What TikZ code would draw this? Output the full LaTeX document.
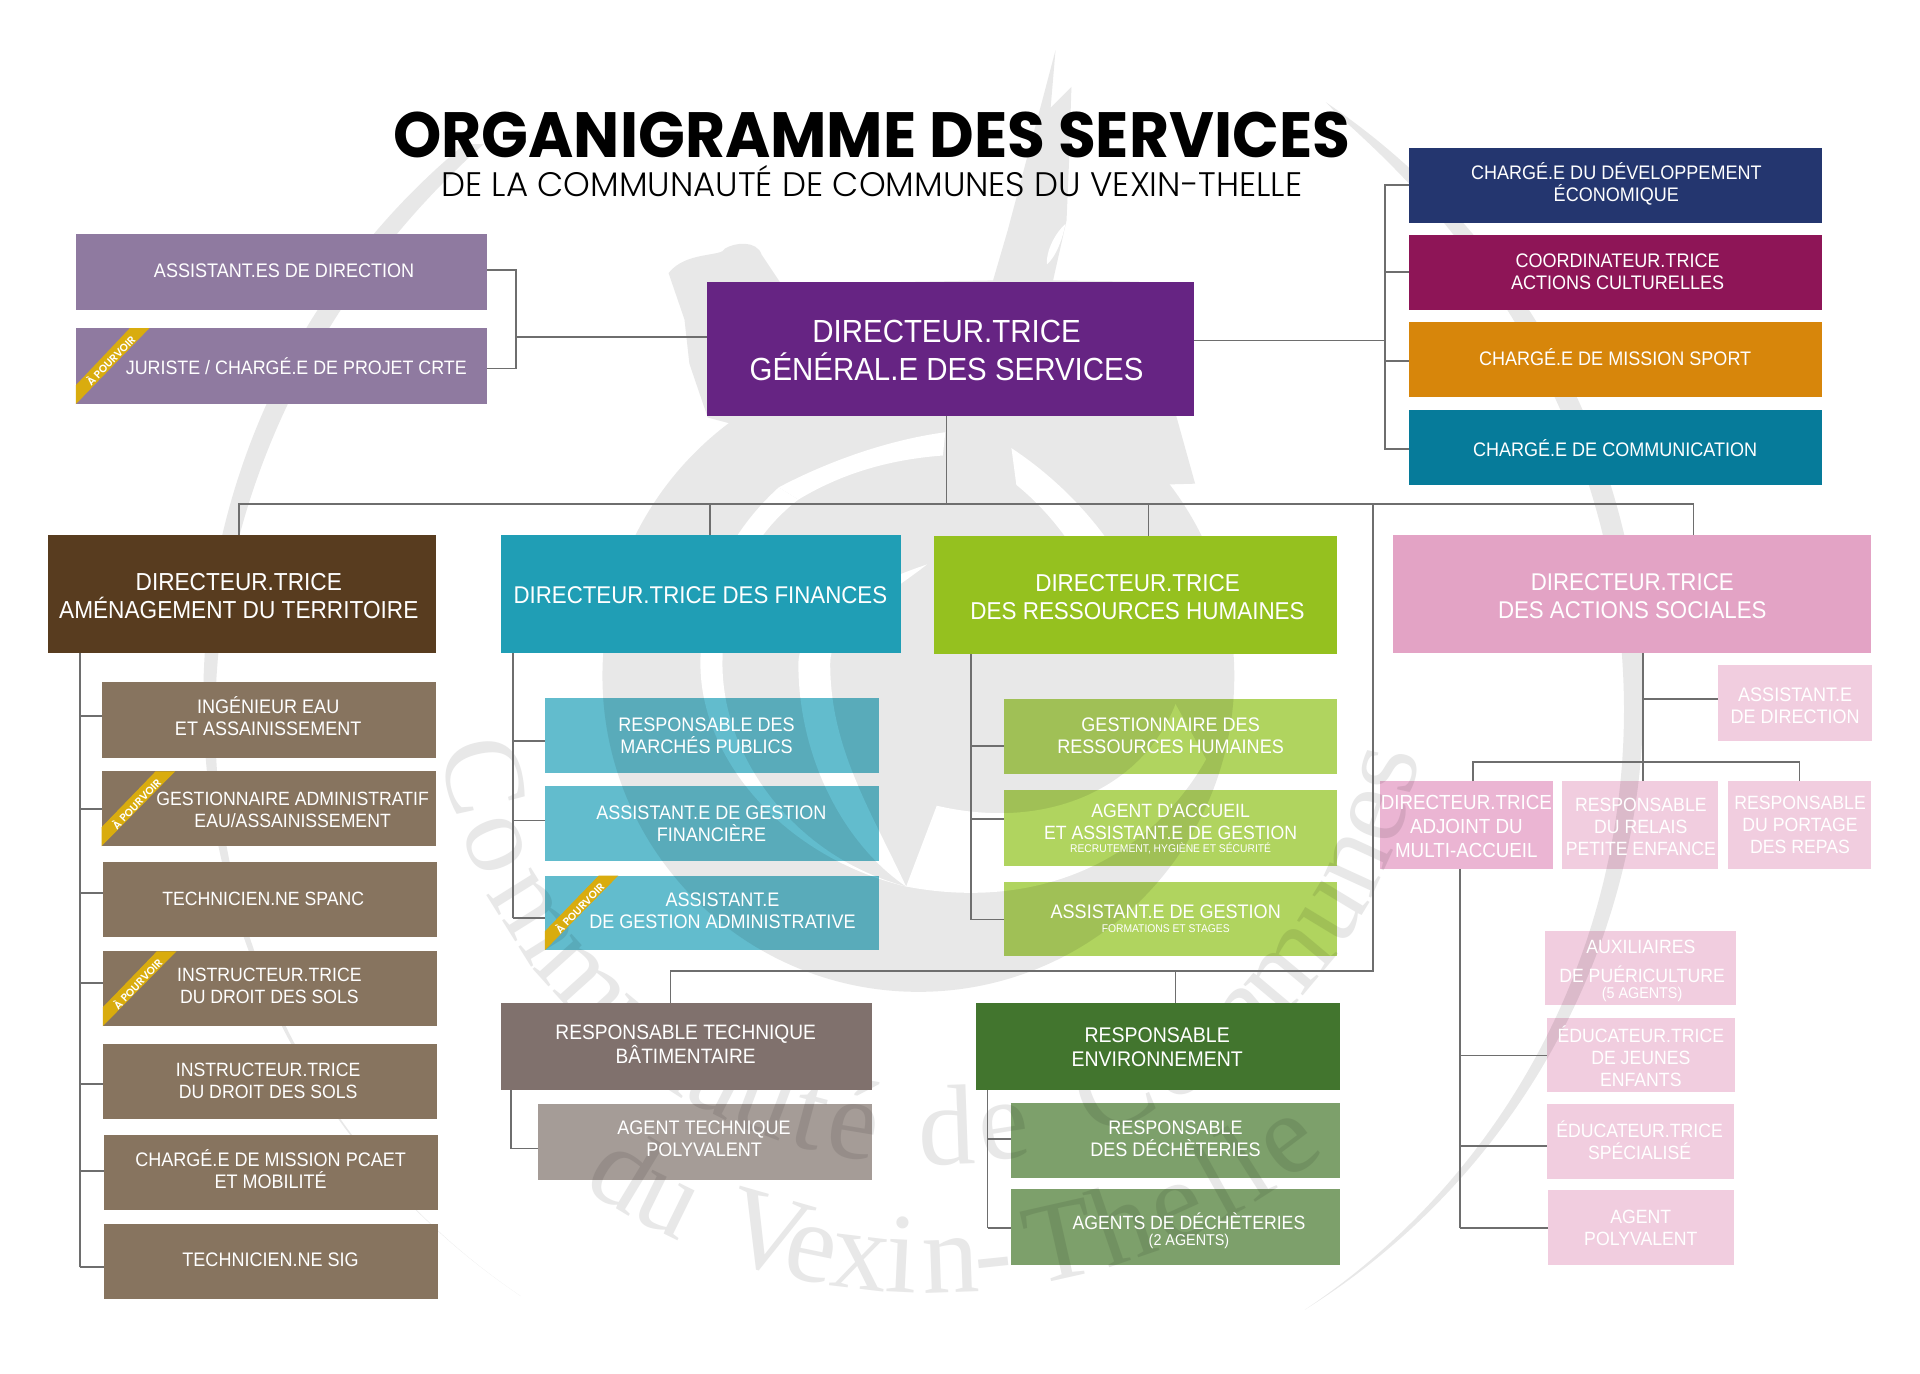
\documentclass[tikz,border=0pt]{standalone}
\usepackage{fontspec}
\usetikzlibrary{calc}
\newfontfamily\bodyf[FakeStretch=0.92]{Liberation Sans}
\newfontfamily\titlef[FakeStretch=0.96]{Poppins}
\newfontfamily\ribf{Poppins SemiBold}
\newfontfamily\subf{Poppins Light}
\newfontfamily\wmf{Liberation Serif}
\definecolor{wm}{HTML}{E8E8E8}
\definecolor{lin}{HTML}{6E6E6E}
\definecolor{gold}{HTML}{D9AC0E}
\definecolor{cmauve}{HTML}{8F7AA0}
\definecolor{cpurple}{HTML}{662483}
\definecolor{cnavy}{HTML}{24366F}
\definecolor{cwine}{HTML}{8E1557}
\definecolor{corange}{HTML}{D7860B}
\definecolor{cpetrol}{HTML}{067B9A}
\definecolor{cbrownd}{HTML}{583C1F}
\definecolor{cteald}{HTML}{209EB5}
\definecolor{cgreend}{HTML}{95C11F}
\definecolor{cpinkd}{HTML}{E3A3C5}
\definecolor{cbrown}{HTML}{87745F}
\definecolor{cteal}{HTML}{62BCCD}
\definecolor{cgreen}{HTML}{B0D45F}
\definecolor{cpinkm}{HTML}{EBB5D3}
\definecolor{cpinkl}{HTML}{F1CDDF}
\definecolor{ctaupe}{HTML}{80716D}
\definecolor{ctaupel}{HTML}{A59C97}
\definecolor{cforest}{HTML}{42752E}
\definecolor{cforestl}{HTML}{7DA06B}
\def\U{0.61224pt}
\tikzset{
  boxn/.style={rectangle,draw=none,inner sep=0pt,outer sep=0pt},
  boxm/.style={boxn,blend mode=multiply},
  txt/.style={text=white,align=center,inner sep=0pt,outer sep=0pt},
  conn/.style={draw=lin,line width=0.9pt,line join=miter},
  ribbontxt/.style={text=white,inner sep=0pt,font=\ribf\fontsize{5.3}{5.3}\selectfont,rotate=46},
  wmch/.style={inner sep=0pt,outer sep=0pt,text=wm,font=\wmf\fontsize{57}{57}\selectfont,anchor=base}
}
% name x0 y0 x1 y1 colour
\newcommand\bx[6]{\node[boxn,fill=#6,minimum width={(#4-#2)*\U},minimum height={(#5-#3)*\U}] (#1) at ({(#2+#4)/2},{(#3+#5)/2}) {};}
\newcommand\bxl[6]{\node[boxm,fill=#6,minimum width={(#4-#2)*\U},minimum height={(#5-#3)*\U}] (#1) at ({(#2+#4)/2},{(#3+#5)/2}) {};}
% name x y fontswitch size leading text
\newcommand\tx[7]{\node[txt,font=#4\fontsize{#5}{#6}\selectfont] (#1) at (#2,#3) {#7};}
\newcommand\ribbon[4]{\fill[gold] ({#2+44},#3) -- ({#2+60},#3) -- (#2,#4) -- (#2,{#4-15.5}) -- cycle;
  \node[ribbontxt] (#1) at ({#2+28},{#3+26}) {À POURVOIR};}
\newcommand\stub[3]{\coordinate (aux) at (#2,#3); \draw[conn] (aux) -- (aux -| #1.west);}
\newcommand\drop[3]{\coordinate (aux) at (#2,#3); \draw[conn] (aux) -- (aux |- #1.north);}
\newcommand\rise[3]{\coordinate (aux) at (#2,#3); \draw[conn] (aux) -- (aux |- #1.south);}
\begin{document}
\begin{tikzpicture}[x=0.61224pt,y=-0.61224pt]
\useasboundingbox (0,0) rectangle (1568,1121.3);
\fill[white] (0,0) rectangle (1568,1121.3);
% --- watermark
\begin{scope}
\clip (0,118) rectangle (1568,1121.3);
\fill[wm] plot[domain=124:245,samples=70,smooth] ({754+588*cos(\x)},{571+588*sin(\x)})
  -- plot[domain=245:124,samples=70,smooth] ({754+(588-16*sin(180*((\x-124)/121)^2))*cos(\x)},{571+(588-16*sin(180*((\x-124)/121)^2))*sin(\x)}) -- cycle;
\end{scope}
\fill[wm] plot[domain=-56:58,samples=70,smooth] ({754+588*cos(\x)},{571+588*sin(\x)})
  -- plot[domain=58:-56,samples=70,smooth] ({754+(588-17*sin(180*((\x+56)/114)^0.67))*cos(\x)},{571+(588-17*sin(180*((\x+56)/114)^0.67))*sin(\x)}) -- cycle;
% emblem disc and robe
\fill[wm] (750,552) circle[radius=258];
\fill[wm] (578,341) -- (563,297) -- (559,261) -- (546,223) .. controls (560,205) and (590,210) .. (592,203) .. controls (600,198) and (618,196) .. (622,208) -- (638,232) -- (811,229) -- (823,188) -- (852,79) -- (862,41) -- (858,88) -- (875,71) -- (873,133) -- (871,180) -- (860,229) -- (930,230) -- (976,395) -- (800,400) -- cycle;
\fill[white] (870,183) .. controls (868,195) and (862,210) .. (855,216) .. controls (854,205) and (862,190) .. (870,183) -- cycle;
% emblem white swirls
\fill[white] (636,398) .. controls (670,380) and (720,360) .. (772,353) -- (770,372) .. controls (730,375) and (690,385) .. (652,408) -- cycle;
\fill[white] (636,398) .. controls (590,440) and (572,490) .. (572,542) .. controls (572,620) and (640,700) .. (740,724) .. controls (650,700) and (590,620) .. (590,542) .. controls (590,490) and (610,440) .. (652,408) -- cycle;
\fill[white] (757,461) .. controls (700,480) and (652,510) .. (652,542) .. controls (652,620) and (690,690) .. (740,724) .. controls (710,660) and (678,610) .. (678,542) .. controls (678,510) and (720,490) .. (757,461) -- cycle;
\fill[white] (826,366) .. controls (870,395) and (905,435) .. (925,475) -- (900,500) .. controls (890,460) and (860,420) .. (830,396) -- cycle;
\fill[white] (740,724) .. controls (850,745) and (940,700) .. (985,620) -- (960,575) .. controls (935,640) and (860,680) .. (765,658) -- cycle;
\fill[wm] (832,558) .. controls (860,580) and (865,610) .. (850,635) .. controls (830,630) and (825,590) .. (832,558) -- cycle;
% watermark text on arcs: one letter at a time, polar angle / character
\foreach \a/\c [count=\i] in {166.4/C,157.8/o,148/m,138/m,129.5/u,123/n,117/a,110.8/u,105/t,99.5/é,88/d,81/e,66.5/C,58/o,50/m,40/m,31.2/u,24.6/n,18.4/e,12.6/s}{
  \node[wmch,rotate={90-\a}] (wa\i) at ({760+406*cos(\a)},{545+406*sin(\a)}) {\c};}
\foreach \a/\c [count=\i] in {121.3/d,116.2/u,106/V,101.6/e,96.8/x,92.8/i,88/n,84/-,77.3/T,71/h,65.5/e,61/l,57.5/l,53/e}{
  \node[wmch,rotate={90-\a}] (wb\i) at ({760+511*cos(\a)},{545+511*sin(\a)}) {\c};}
% --- boxes
\bx{asdir}{62}{191}{398}{253}{cmauve}
\bx{jur}{62}{268}{398}{330}{cmauve}
\bx{dgs}{577}{230}{975}{340}{cpurple}
\bx{cde}{1151}{121}{1488}{182}{cnavy}
\bx{coo}{1151}{192}{1488}{253}{cwine}
\bx{spo}{1151}{263}{1488}{324}{corange}
\bx{com}{1151}{335}{1488}{396}{cpetrol}
\bx{damt}{39}{437}{356}{533}{cbrownd}
\bx{dfin}{409}{437}{736}{533}{cteald}
\bx{drh}{763}{438}{1092}{534}{cgreend}
\bx{das}{1138}{437}{1528}{533}{cpinkd}
\bx{ing}{83}{557}{356}{619}{cbrown}
\bx{ges}{83}{630}{356}{691}{cbrown}
\bx{spa}{84}{704}{357}{765}{cbrown}
\bx{ins}{84}{777}{357}{838}{cbrown}
\bx{inz}{84}{853}{357}{914}{cbrown}
\bx{pca}{85}{927}{358}{988}{cbrown}
\bx{sig}{85}{1000}{358}{1061}{cbrown}
\bxl{mar}{445}{570}{718}{631}{cteal}
\bxl{fna}{445}{642}{718}{703}{cteal}
\bxl{adm}{445}{715}{718}{776}{cteal}
\bxl{grh}{820}{571}{1092}{632}{cgreen}
\bxl{acc}{820}{645}{1092}{707}{cgreen}
\bxl{agf}{820}{720}{1092}{781}{cgreen}
\bx{rtb}{409}{819}{712}{890}{ctaupe}
\bxl{atp}{439}{902}{712}{964}{ctaupel}
\bx{ren}{797}{819}{1094}{890}{cforest}
\bxl{rde}{826}{901}{1094}{962}{cforestl}
\bxl{ade}{826}{971}{1094}{1033}{cforestl}
\bxl{asd}{1403}{543}{1529}{605}{cpinkl}
\bxl{dam}{1127}{638}{1268}{710}{cpinkm}
\bxl{rpe}{1276}{638}{1403}{710}{cpinkl}
\bxl{rpr}{1411}{638}{1528}{710}{cpinkl}
\bxl{aux}{1262}{760}{1418}{821}{cpinkl}
\bxl{edu}{1263}{831}{1417}{892}{cpinkl}
\bxl{spe}{1263}{902}{1416}{963}{cpinkl}
\bxl{apo}{1264}{972}{1416}{1033}{cpinkl}
% --- connectors
\coordinate (jl) at (421.5,275);
\draw[conn] (jl) -- (jl -| dgs.west);
\coordinate (ja) at (421.5,220.5); \coordinate (jb) at (421.5,301);
\draw[conn] (ja -| asdir.east) -- (ja) -- (jb) -- (jb -| jur.east);
\coordinate (jr) at (1131,278);
\draw[conn] (jr -| dgs.east) -- (jr);
\coordinate (jt) at (1131,151); \coordinate (jm) at (1131,367);
\draw[conn] (jt -| cde.west) -- (jt) -- (jm) -- (jm -| com.west);
\stub{coo}{1131}{222}
\stub{spo}{1131}{295}
\coordinate (busl) at (195,411.5); \coordinate (busr) at (1383,411.5);
\draw[conn] (busl |- damt.north) -- (busl) -- (busr) -- (busr |- das.north);
\rise{dgs}{773}{411.5}
\drop{dfin}{580}{411.5}
\drop{drh}{938}{411.5}
\coordinate (busd) at (1121.5,411.5); \coordinate (bus2r) at (1121.5,793); \coordinate (bus2l) at (547.5,793);
\draw[conn] (busd) -- (bus2r) -- (bus2l) -- (bus2l |- rtb.north);
\drop{ren}{960}{793}
\rise{damt}{65.5}{1035}
\stub{ing}{65.5}{585} \stub{ges}{65.5}{661} \stub{spa}{65.5}{729} \stub{ins}{65.5}{803} \stub{inz}{65.5}{885} \stub{pca}{65.5}{956} \stub{sig}{65.5}{1035}
\rise{dfin}{419}{750}
\stub{mar}{419}{605} \stub{fna}{419}{670} \stub{adm}{419}{750}
\rise{drh}{793}{751}
\stub{grh}{793}{609} \stub{acc}{793}{669} \stub{agf}{793}{751}
\rise{rtb}{417.5}{938}
\stub{atp}{417.5}{938}
\rise{ren}{806.5}{1003}
\stub{rde}{806.5}{930} \stub{ade}{806.5}{1003}
\rise{das}{1342}{622}
\stub{asd}{1342}{571}
\drop{rpe}{1342}{622}
\coordinate (subl) at (1203,622); \coordinate (subr) at (1469.5,622);
\draw[conn] (subl |- dam.north) -- (subl) -- (subr) -- (subr |- rpr.north);
\rise{dam}{1192}{1003}
\stub{aux}{1192}{790} \stub{edu}{1192}{862} \stub{spe}{1192}{936} \stub{apo}{1192}{1003}
% --- ribbons
\ribbon{r1}{62}{268}{330}
\ribbon{r2}{83}{630}{691}
\ribbon{r3}{84}{777}{838}
\ribbon{r4}{445}{715}{776}
% --- title
\node[inner sep=0pt,font=\titlef\bfseries\fontsize{32}{32}\selectfont,text=black] (ttl) at (712,110) {ORGANIGRAMME DES SERVICES};
\node[inner sep=0pt,font=\subf\fontsize{17}{17}\selectfont,text=black] (sbt) at (712,147.5) {DE LA COMMUNAUTÉ DE COMMUNES DU VEXIN-THELLE};
% --- texts
\tx{t1}{232}{221}{\bodyf}{9.8}{11}{ASSISTANT.ES DE DIRECTION}
\tx{t2}{242}{299}{\bodyf}{9.7}{11}{JURISTE / CHARGÉ.E DE PROJET CRTE}
\tx{t3}{773}{286.5}{\bodyf}{16}{19}{DIRECTEUR.TRICE\\GÉNÉRAL.E DES SERVICES}
\tx{t4}{1320}{150}{\bodyf}{9.8}{11}{CHARGÉ.E DU DÉVELOPPEMENT\\ÉCONOMIQUE}
\tx{t5}{1321}{222}{\bodyf}{9.8}{11}{COORDINATEUR.TRICE\\ACTIONS CULTURELLES}
\tx{t6}{1319}{292}{\bodyf}{9.8}{11}{CHARGÉ.E DE MISSION SPORT}
\tx{t7}{1319}{366}{\bodyf}{9.8}{11}{CHARGÉ.E DE COMMUNICATION}
\tx{t8}{195}{487}{\bodyf}{12.3}{14}{DIRECTEUR.TRICE\\AMÉNAGEMENT DU TERRITOIRE}
\tx{t9}{572}{486}{\bodyf}{12.1}{14}{DIRECTEUR.TRICE DES FINANCES}
\tx{t10}{929}{488}{\bodyf}{12.2}{14}{DIRECTEUR.TRICE\\DES RESSOURCES HUMAINES}
\tx{t11}{1333}{487}{\bodyf}{12.1}{14}{DIRECTEUR.TRICE\\DES ACTIONS SOCIALES}
\tx{t12}{219}{585}{\bodyf}{9.8}{11}{INGÉNIEUR EAU\\ET ASSAINISSEMENT}
\tx{t13}{239}{661}{\bodyf}{9.6}{11}{GESTIONNAIRE ADMINISTRATIF\\EAU/ASSAINISSEMENT}
\tx{t14}{215}{734}{\bodyf}{9.6}{11}{TECHNICIEN.NE SPANC}
\tx{t15}{220}{805}{\bodyf}{9.6}{11}{INSTRUCTEUR.TRICE\\DU DROIT DES SOLS}
\tx{t16}{219}{883}{\bodyf}{9.6}{11}{INSTRUCTEUR.TRICE\\DU DROIT DES SOLS}
\tx{t17}{221}{955}{\bodyf}{9.8}{11}{CHARGÉ.E DE MISSION PCAET\\ET MOBILITÉ}
\tx{t18}{221}{1029}{\bodyf}{9.8}{11}{TECHNICIEN.NE SIG}
\tx{t19}{577}{601}{\bodyf}{9.8}{11}{RESPONSABLE DES\\MARCHÉS PUBLICS}
\tx{t20}{581}{673}{\bodyf}{9.8}{11}{ASSISTANT.E DE GESTION\\FINANCIÈRE}
\tx{t21}{590}{743.5}{\bodyf}{9.8}{11}{ASSISTANT.E\\DE GESTION ADMINISTRATIVE}
\tx{t22}{956}{601}{\bodyf}{9.8}{11}{GESTIONNAIRE DES\\RESSOURCES HUMAINES}
\tx{t23}{956}{671}{\bodyf}{9.6}{11}{AGENT D'ACCUEIL\\ET ASSISTANT.E DE GESTION}
\tx{t24}{956}{693}{\bodyf}{5.6}{6}{RECRUTEMENT, HYGIÈNE ET SÉCURITÉ}
\tx{t25}{952}{745}{\bodyf}{9.8}{11}{ASSISTANT.E DE GESTION}
\tx{t26}{952}{758.5}{\bodyf}{5.6}{6}{FORMATIONS ET STAGES}
\tx{t27}{560}{853}{\bodyf}{10.4}{12}{RESPONSABLE TECHNIQUE\\BÂTIMENTAIRE}
\tx{t28}{575}{930}{\bodyf}{9.8}{11}{AGENT TECHNIQUE\\POLYVALENT}
\tx{t29}{945}{855}{\bodyf}{10.6}{12}{RESPONSABLE\\ENVIRONNEMENT}
\tx{t30}{960}{930}{\bodyf}{9.8}{11}{RESPONSABLE\\DES DÉCHÈTERIES}
\tx{t31}{971}{997}{\bodyf}{9.6}{11}{AGENTS DE DÉCHÈTERIES}
\tx{t32}{971}{1013.5}{\bodyf}{7.8}{8}{(2 AGENTS)}
\tx{t33}{1466}{576}{\bodyf}{9.8}{11}{ASSISTANT.E\\DE DIRECTION}
\tx{t34}{1197.5}{675}{\bodyf}{10.2}{12}{DIRECTEUR.TRICE\\ADJOINT DU\\MULTI-ACCUEIL}
\tx{t35}{1340}{675.5}{\bodyf}{9.6}{11}{RESPONSABLE\\DU RELAIS\\PETITE ENFANCE}
\tx{t36}{1470}{674}{\bodyf}{9.6}{11}{RESPONSABLE\\DU PORTAGE\\DES REPAS}
\tx{t37}{1340}{773}{\bodyf}{9.6}{11}{AUXILIAIRES}
\tx{t38}{1341}{796}{\bodyf}{9.6}{11}{DE PUÉRICULTURE}
\tx{t39}{1341}{812}{\bodyf}{7.8}{8}{(5 AGENTS)}
\tx{t40}{1340}{863}{\bodyf}{9.6}{11}{ÉDUCATEUR.TRICE\\DE JEUNES\\ENFANTS}
\tx{t41}{1339}{931}{\bodyf}{9.6}{11}{ÉDUCATEUR.TRICE\\SPÉCIALISÉ}
\tx{t42}{1340}{1003}{\bodyf}{9.6}{11}{AGENT\\POLYVALENT}
\end{tikzpicture}
\end{document}
